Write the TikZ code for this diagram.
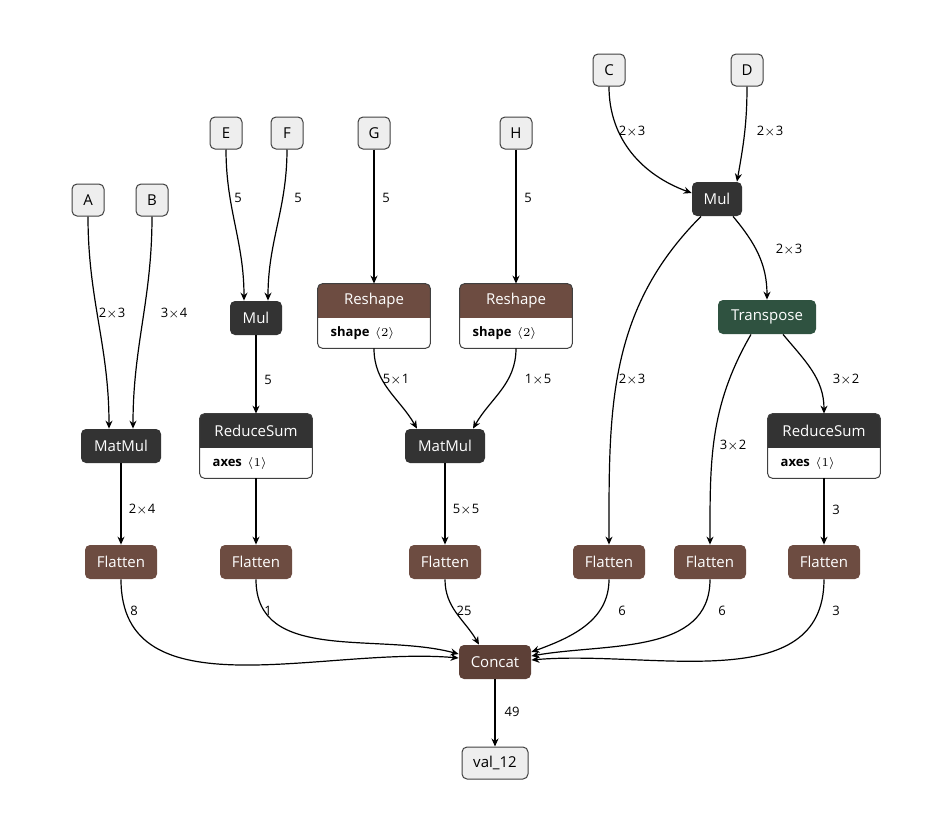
\documentclass[tikz,border=0pt]{standalone}
\usepackage{fontspec}
\setmainfont{Open Sans}
\usetikzlibrary{positioning,calc,arrows.meta}
\definecolor{opdark}{HTML}{333333}
\definecolor{opbrown}{HTML}{6D4C41}
\definecolor{opconcat}{HTML}{5D4037}
\definecolor{opgreen}{HTML}{2F5240}
\definecolor{iofill}{HTML}{EEEEEE}
\tikzset{
  op/.style={rounded corners=2.5pt, minimum height=17pt, inner sep=0pt, text=white, font=\fontsize{7.5}{9}\selectfont},
  io/.style={rounded corners=2.5pt, minimum height=16pt, inner sep=0pt, fill=iofill, draw=black!75, line width=0.5pt, font=\fontsize{7.5}{9}\selectfont},
  edge/.style={-{Stealth[length=4pt,width=3.5pt]}, line width=0.6pt},
  lbl/.style={font=\fontsize{6.5}{8}\selectfont}
}
% two-part node: name, cx, cy, width(pt), title, attribute, colour
\newcommand{\attrop}[7]{%
  \node[minimum width=#4pt, minimum height=32pt, inner sep=0pt] (#1) at (#2,#3) {};
  \begin{scope}
    \clip[rounded corners=2.5pt] (#1.south west) rectangle (#1.north east);
    \fill[white] (#1.south west) rectangle (#1.north east);
    \fill[#7] (#1.north west) rectangle ($(#1.north east)+(0,34)$);
  \end{scope}
  \draw[rounded corners=2.5pt, line width=0.5pt, draw=black!75] (#1.south west) rectangle (#1.north east);
  \node[text=white, font=\fontsize{7.5}{9}\selectfont] at ($(#1.north)+(0,17)$) {#5};
  \node[anchor=west, font=\fontsize{6.5}{8}\selectfont] at ($(#1.south west)+(6,-15)$) {#6};
}
\begin{document}
\begin{tikzpicture}[x=0.5pt, y=-0.5pt]
    \useasboundingbox (0,0) rectangle (949,814);
    % inputs
    \node[io, minimum width=16pt] (A) at (88,200) {A};
    \node[io, minimum width=16pt] (B) at (152,200) {B};
    \node[io, minimum width=16pt] (E) at (226,133) {E};
    \node[io, minimum width=16pt] (F) at (287,133) {F};
    \node[io, minimum width=16pt] (G) at (374,133) {G};
    \node[io, minimum width=16pt] (H) at (516,133) {H};
    \node[io, minimum width=16pt] (C) at (609,70) {C};
    \node[io, minimum width=16pt] (D) at (747,70) {D};

    % operators
    \node[op, fill=opdark, minimum width=26pt] (mul1) at (256,318) {Mul};
    \node[op, fill=opdark, minimum width=25pt] (mul2) at (717,199) {Mul};
    \node[op, fill=opgreen, minimum width=49pt] (transp) at (767,317) {Transpose};
    \node[op, fill=opdark, minimum width=40pt] (mm1) at (121,446) {MatMul};
    \node[op, fill=opdark, minimum width=40pt] (mm2) at (445,446) {MatMul};
    \attrop{rs1}{374}{316}{56}{Reshape}{\textbf{shape} \,$\langle 2\rangle$}{opbrown}
    \attrop{rs2}{516}{316}{56}{Reshape}{\textbf{shape} \,$\langle 2\rangle$}{opbrown}
    \attrop{sum1}{256}{446}{56}{ReduceSum}{\textbf{axes} \,$\langle 1\rangle$}{opdark}
    \attrop{sum2}{824}{446}{56}{ReduceSum}{\textbf{axes} \,$\langle 1\rangle$}{opdark}

    % flatten row
    \foreach \n/\x in {fl1/121, fl2/256, fl3/445, fl4/609, fl5/710, fl6/824}
        \node[op, fill=opbrown, minimum width=36pt] (\n) at (\x,562) {Flatten};
    \node[op, fill=opconcat, minimum width=36pt] (concat) at (495,662) {Concat};
    \node[io, minimum width=33pt] (out) at (495,763) {val\_12};

    % edges
    \draw[edge] (A.south) to[out=-90, in=90] ($(mm1.north)+(-12,0)$);
    \draw[edge] (B.south) to[out=-90, in=90] ($(mm1.north)+(12,0)$);
    \draw[edge] (E.south) to[out=-90, in=90] ($(mul1.north)+(-12,0)$);
    \draw[edge] (F.south) to[out=-90, in=90] ($(mul1.north)+(12,0)$);
    \draw[edge] (G.south) -- (rs1.north);
    \draw[edge] (H.south) -- (rs2.north);
    \draw[edge] (C.south) to[out=-90, in=160] ($(mul2.west)+(0,-6)$);
    \draw[edge] (D.south) to[out=-90, in=80] ($(mul2.north)+(20,0)$);
    \draw[edge] (mul1.south) -- (sum1.north);
    \draw[edge] (rs1.south) to[out=-90, in=120] ($(mm2.north)+(-28,0)$);
    \draw[edge] (rs2.south) to[out=-90, in=60] ($(mm2.north)+(28,0)$);
    \draw[edge] ($(mul2.south)+(-16,0)$) to[out=-135, in=90] (fl4.north);
    \draw[edge] ($(mul2.south)+(16,0)$) to[out=-50, in=90] (transp.north);
    \draw[edge] ($(transp.south)+(-16,0)$) to[out=-120, in=90] (fl5.north);
    \draw[edge] ($(transp.south)+(16,0)$) to[out=-50, in=90] (sum2.north);
    \draw[edge] (mm1.south) -- (fl1.north);
    \draw[edge] (sum1.south) -- (fl2.north);
    \draw[edge] (mm2.south) -- (fl3.north);
    \draw[edge] (sum2.south) -- (fl6.north);
    \draw[edge] (fl1.south) to[out=-90, in=175] ($(concat.west)+(0,-4)$);
    \draw[edge] (fl2.south) to[out=-90, in=165] ($(concat.west)+(0,-8)$);
    \draw[edge] (fl3.south) to[out=-90, in=120] ($(concat.north)+(-16,0)$);
    \draw[edge] (fl4.south) to[out=-90, in=20] ($(concat.east)+(0,-10)$);
    \draw[edge] (fl5.south) to[out=-90, in=10] ($(concat.east)+(0,-6)$);
    \draw[edge] (fl6.south) to[out=-90, in=5] ($(concat.east)+(0,-2)$);
    \draw[edge] (concat.south) -- (out.north);

    % tensor shapes
    \foreach \t/\x/\y in {2$\times$3/112/314, 3$\times$4/174/314, 5/238/198, 5/298/198,
        5/386/198, 5/528/198, 2$\times$3/632/132, 2$\times$3/770/132, 5/268/380,
        5$\times$1/396/380, 1$\times$5/538/380, 2$\times$3/632/380, 2$\times$3/789/250,
        3$\times$2/846/380, 3$\times$2/733/446, 2$\times$4/142/510, 5$\times$5/466/510,
        3/836/510, 8/134/611, 1/268/611, 25/464/611, 6/622/611, 6/722/611,
        3/836/611, 49/512/712}
        \node[lbl] at (\x,\y) {\t};
\end{tikzpicture}
\end{document}
